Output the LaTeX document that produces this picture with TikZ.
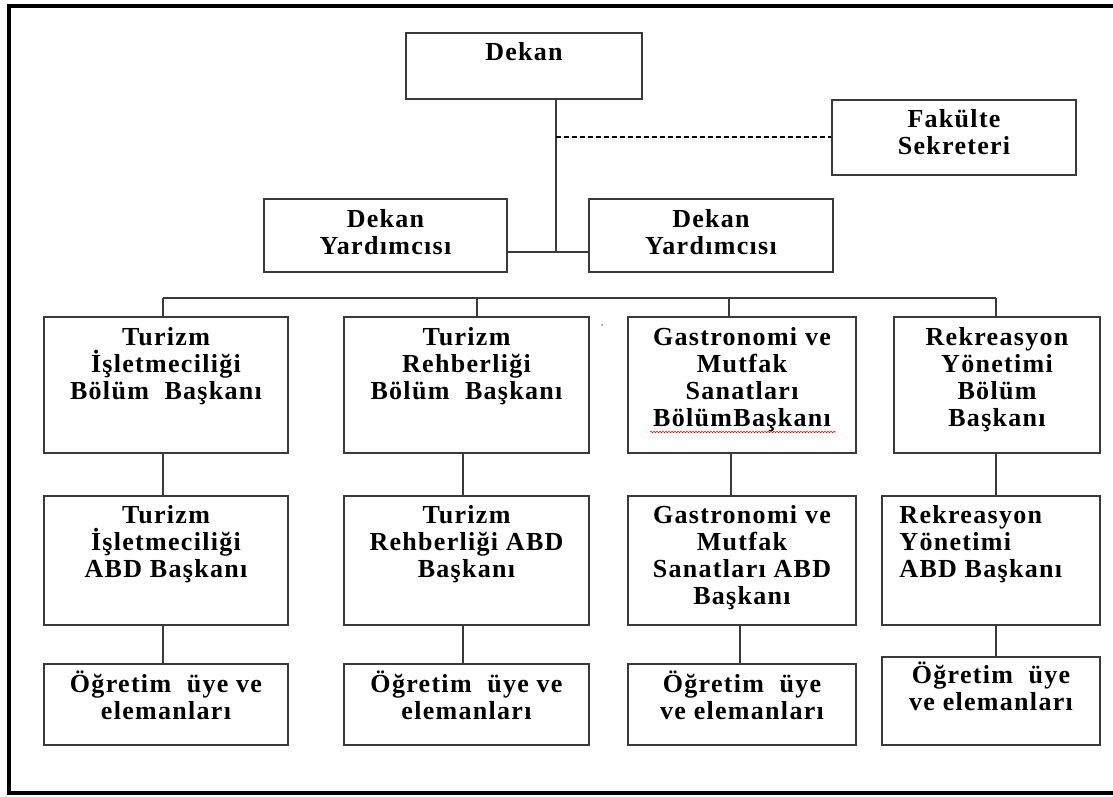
\documentclass[tikz,border=0pt]{standalone}
\usepackage{fontspec}
\setmainfont{Liberation Serif}
\newfontfamily\lsf[LetterSpace=5]{Liberation Serif}
\usetikzlibrary{decorations.pathmorphing}
\definecolor{boxc}{HTML}{3A3A3A}
\tikzset{
  box/.style={draw=boxc, line width=1.5pt, inner sep=0pt, rectangle},
  txt/.style={anchor=north, inner sep=0pt, align=center, text=black,
    font=\lsf\bfseries\fontsize{26}{27}\selectfont},
  txtl/.style={txt, anchor=north west, align=left},
  conn/.style={draw=boxc, line width=1.4pt},
  dconn/.style={draw=black, line width=1.8pt, dash pattern=on 5pt off 3pt},
  frame/.style={draw=black, line width=3.5pt}
}
\newcommand{\sr}{\rule{0pt}{22pt}}
\begin{document}
\begin{tikzpicture}[x=1pt,y=-1pt]
\useasboundingbox (0,0) rectangle (1113,797);
\draw[frame] (1116,6) -- (9,6) -- (9,793) -- (1116,793);

% top part
\node[box, minimum width=236pt, minimum height=66pt] (dekan) at (524,66) {};
\node[txt] (dekant) at ([yshift=-6pt]dekan.north) {\sr Dekan};
\node[box, minimum width=244pt, minimum height=75pt] (fak) at (954,137.5) {};
\node[txt] (fakt) at ([yshift=-6pt]fak.north) {\sr Fakülte\\Sekreteri};
\node[box, minimum width=243pt, minimum height=73pt] (dyl) at (385.5,235.5) {};
\node[txt] (dylt) at ([yshift=-7pt]dyl.north) {\sr Dekan\\Yardımcısı};
\node[box, minimum width=244pt, minimum height=73pt] (dyr) at (711,235.5) {};
\node[txt] (dyrt) at ([yshift=-7pt]dyr.north) {\sr Dekan\\Yardımcısı};

\coordinate (j) at (556,252);
\coordinate (d) at (556,137);
\draw[conn] (dekan.south -| j) -- (j);
\draw[conn] (dyl.east |- j) -- (dyr.west |- j);
\draw[dconn] (d) -- (fak.west |- d);

% row 1
\node[box, minimum width=244pt, minimum height=136pt] (b1) at (166,385) {};
\node[box, minimum width=245pt, minimum height=136pt] (b2) at (466.5,385) {};
\node[box, minimum width=228pt, minimum height=136pt] (b3) at (742,385) {};
\node[box, minimum width=206pt, minimum height=136pt] (b4) at (997,385) {};
\node[txt] (b1t) at ([yshift=-7pt]b1.north) {\sr Turizm\\İşletmeciliği\\Bölüm~~Başkanı};
\node[txt] (b2t) at ([yshift=-7pt]b2.north) {\sr Turizm\\Rehberliği\\Bölüm~~Başkanı};
\node[txt] (b3t) at ([yshift=-7pt]b3.north) {\sr Gastronomi ve\\Mutfak\\Sanatları\\BölümBaşkanı};
\node[txt] (b4t) at ([yshift=-7pt]b4.north) {\sr Rekreasyon\\Yönetimi\\Bölüm\\Başkanı};
\draw[red, line width=0.6pt, decorate, decoration={snake, amplitude=0.7pt, segment length=3pt}] (650,432) -- (836,432);
\fill[gray] (602,325) circle (1pt);

% bus
\coordinate (t1) at (163,298);
\coordinate (t2) at (477,298);
\coordinate (t3) at (729,298);
\coordinate (t4) at (996,298);
\draw[conn] (t1) -- (t4);
\draw[conn] (t1) -- (t1 |- b1.north);
\draw[conn] (t2) -- (t2 |- b2.north);
\draw[conn] (t3) -- (t3 |- b3.north);
\draw[conn] (t4) -- (t4 |- b4.north);

% row 2
\node[box, minimum width=244pt, minimum height=129pt] (a1) at (166,560.5) {};
\node[box, minimum width=245pt, minimum height=129pt] (a2) at (466.5,560.5) {};
\node[box, minimum width=228pt, minimum height=129pt] (a3) at (742,560.5) {};
\node[box, minimum width=218pt, minimum height=129pt] (a4) at (991,560.5) {};
\node[txt] (a1t) at ([yshift=-6pt]a1.north) {\sr Turizm\\İşletmeciliği\\ABD Başkanı};
\node[txt] (a2t) at ([yshift=-6pt]a2.north) {\sr Turizm\\Rehberliği ABD\\Başkanı};
\node[txt] (a3t) at ([yshift=-6pt]a3.north) {\sr Gastronomi ve\\Mutfak\\Sanatları ABD\\Başkanı};
\node[txtl] (a4t) at ([xshift=18pt,yshift=-6pt]a4.north west) {\sr Rekreasyon\\Yönetimi\\ABD Başkanı};

\draw[conn] ([xshift=-3pt]b1.south) -- ([xshift=-3pt]b1.south |- a1.north);
\draw[conn] ([xshift=-3.5pt]b2.south) -- ([xshift=-3.5pt]b2.south |- a2.north);
\draw[conn] ([xshift=-11pt]b3.south) -- ([xshift=-11pt]b3.south |- a3.north);
\draw[conn] ([xshift=-1pt]b4.south) -- ([xshift=-1pt]b4.south |- a4.north);

% row 3
\node[box, minimum width=244pt, minimum height=81pt] (o1) at (166,704.5) {};
\node[box, minimum width=245pt, minimum height=81pt] (o2) at (466.5,704.5) {};
\node[box, minimum width=228pt, minimum height=81pt] (o3) at (742,704.5) {};
\node[box, minimum width=218pt, minimum height=88pt] (o4) at (991,701) {};
\node[txt] (o1t) at ([yshift=-7pt]o1.north) {\sr Öğretim~~üye ve\\elemanları};
\node[txt] (o2t) at ([yshift=-7pt]o2.north) {\sr Öğretim~~üye ve\\elemanları};
\node[txt] (o3t) at ([yshift=-7pt]o3.north) {\sr Öğretim~~üye\\ve elemanları};
\node[txt] (o4t) at ([yshift=-5pt]o4.north) {\sr Öğretim~~üye\\ve elemanları};

\draw[conn] ([xshift=-3pt]a1.south) -- ([xshift=-3pt]a1.south |- o1.north);
\draw[conn] ([xshift=-3.5pt]a2.south) -- ([xshift=-3.5pt]a2.south |- o2.north);
\draw[conn] ([xshift=-2pt]a3.south) -- ([xshift=-2pt]a3.south |- o3.north);
\draw[conn] ([xshift=5pt]a4.south) -- ([xshift=5pt]a4.south |- o4.north);
\end{tikzpicture}
\end{document}
